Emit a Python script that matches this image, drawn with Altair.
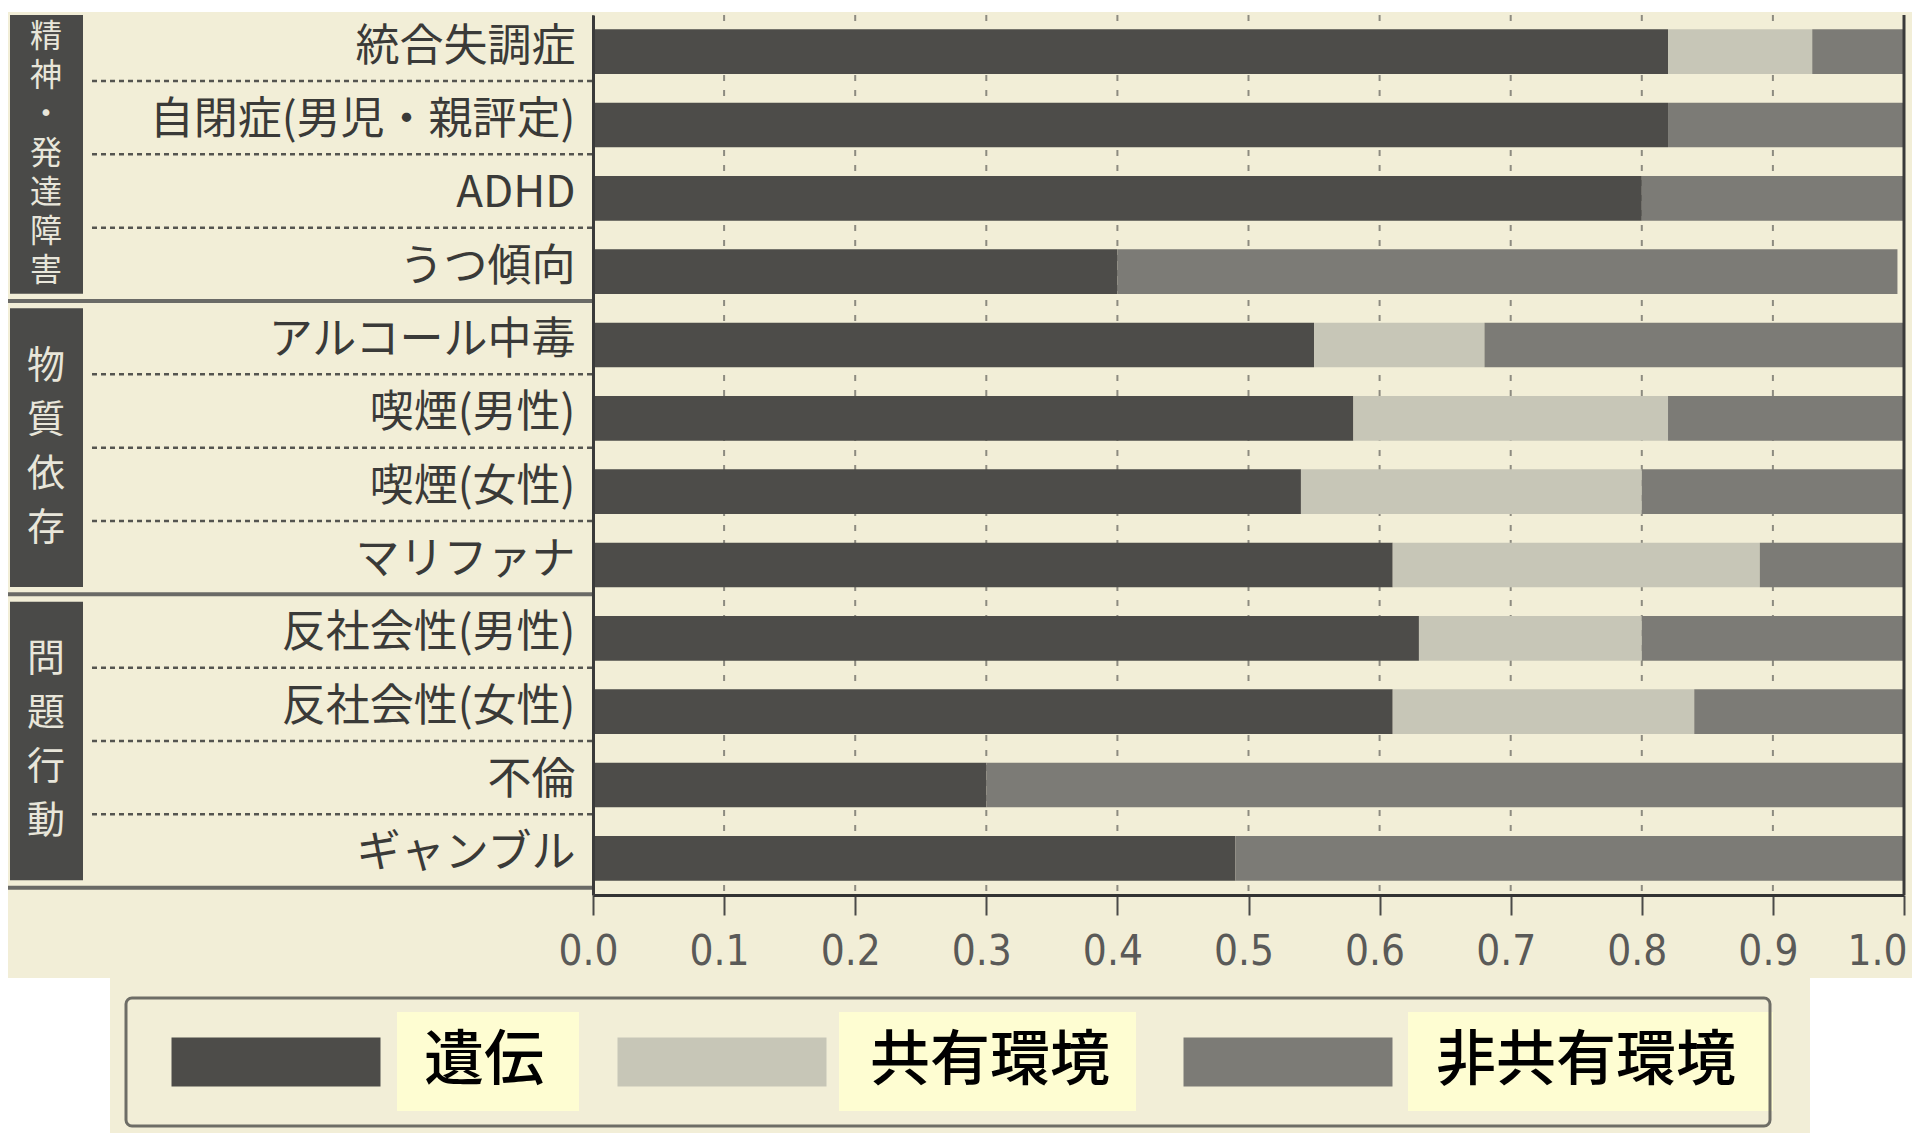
import altair as alt
import pandas as pd

# ---- data ----
categories = ["統合失調症", "自閉症(男児・親評定)", "ADHD", "うつ傾向",
              "アルコール中毒", "喫煙(男性)", "喫煙(女性)", "マリファナ",
              "反社会性(男性)", "反社会性(女性)", "不倫", "ギャンブル"]
genetic   = [0.82, 0.82, 0.80, 0.40, 0.55, 0.58, 0.54, 0.61, 0.63, 0.61, 0.30, 0.49]
shared    = [0.11, 0.00, 0.00, 0.00, 0.13, 0.24, 0.26, 0.28, 0.17, 0.23, 0.00, 0.00]
nonshared = [0.07, 0.18, 0.20, 0.595, 0.32, 0.18, 0.20, 0.11, 0.20, 0.16, 0.70, 0.51]
components = ["遺伝", "共有環境", "非共有環境"]
groups = ["精神・発達障害", "物質依存", "問題行動"]
group_sizes = [4, 4, 4]
ticks = [0.0, 0.1, 0.2, 0.3, 0.4, 0.5, 0.6, 0.7, 0.8, 0.9, 1.0]

# ---- styles ----
colors = ["#4d4c49", "#c7c6b7", "#7c7b76"]
cream = "#f2eed7"
patch = "#fefdd2"
jp = "Noto Sans CJK JP"
W, H = 1311, 880

rows = []
series = [genetic, shared, nonshared]
for i, c in enumerate(categories):
    for k, comp in enumerate(components):
        rows.append({"cat": c, "comp": comp, "value": series[k][i], "k": k})
df = pd.DataFrame(rows)

# group structure (index units on a 0..12 row scale)
starts, s = [], 0
for n in group_sizes:
    starts.append(s)
    s += n
total = s
inner = [b for st, n in zip(starts, group_sizes) for b in range(st + 1, st + n)]
outer = [st + n for st, n in zip(starts, group_sizes)]
gdf = pd.DataFrame({
    "name": groups,
    "txt": ["\n".join(list(g)) for g in groups],
    "y0": starts,
    "y1": [st + n - 0.2 for st, n in zip(starts, group_sizes)],
    "yc": [st + (n - 0.2) / 2 for st, n in zip(starts, group_sizes)],
})
idx = alt.Scale(domain=[0, total], reverse=True, nice=False, zero=False)

xs = alt.Scale(domain=[0, 1], nice=False)
xaxis = alt.Axis(values=ticks, format=".1f", title=None, grid=False,
                 labelFont="DejaVu Sans Condensed, Liberation Sans Narrow, sans-serif",
                 labelFontSize=42, labelColor="#5a5a58", tickSize=20, tickWidth=2,
                 tickColor="#4a4a48", domainColor="#333333", domainWidth=3,
                 labelPadding=16,
                 labelOffset=alt.ConditionalAxisNumber(
                     condition={"test": "datum.value >= 1", "value": -27}, value=-5),
                 zindex=1, labelFlush=False)

one = pd.DataFrame({"a": [0]})
bg = alt.Chart(one).mark_rect(color=cream).encode(
    x=alt.value(-585), x2=alt.value(W + 8), y=alt.value(-3), y2=alt.value(963))
bg2 = alt.Chart(one).mark_rect(color=cream).encode(
    x=alt.value(-483), x2=alt.value(1217), y=alt.value(960), y2=alt.value(1140))
# light yellow patches pasted behind the legend labels
patches = alt.Chart(pd.DataFrame({"x0": [-196, 246, 815], "x1": [-14, 543, 1180]})).mark_rect(
    color=patch).encode(
    x=alt.X("x0:Q", scale=None), x2="x1:Q", y=alt.value(997), y2=alt.value(1096))

grid = alt.Chart(pd.DataFrame({"t": ticks})).mark_rule(
    color="#8d8b80", strokeWidth=2, strokeDash=[6, 9]).encode(
    x=alt.X("t:Q", scale=xs, axis=xaxis))

SYM = 49  # nominal symbol size (height); custom path stretches it to ~209 px wide
bars = alt.Chart(df).mark_bar().encode(
    x=alt.X("value:Q", stack="zero", scale=xs, axis=xaxis),
    y=alt.Y("cat:N", sort=categories,
            scale=alt.Scale(paddingInner=0.39, paddingOuter=0.195),
            axis=alt.Axis(title=None, ticks=False, labelFont=jp, labelFontSize=44,
                          labelColor="#3a3a38", labelPadding=18, labelOffset=-4,
                          labelLimit=700, domainColor="#3a3a3a", domainWidth=3,
                          zindex=1)),
    color=alt.Color("comp:N", sort=components,
                    scale=alt.Scale(domain=components, range=colors),
                    legend=alt.Legend(orient="none", legendX=-467, legendY=983,
                                      direction="horizontal", title=None,
                                      symbolType="M-4.265,-1H4.265V1H-4.265Z",
                                      symbolSize=SYM * SYM, symbolStrokeWidth=0,
                                      symbolOffset=86,
                                      symbolOpacity=1, labelFont=jp, labelFontSize=60,
                                      labelFontWeight=500, labelColor="#000000",
                                      labelOffset=118, columnPadding=62, padding=34,
                                      labelLimit=500, strokeColor="#6e6d66",
                                      cornerRadius=6)),
    order=alt.Order("k:Q"),
)

dotted = alt.Chart(pd.DataFrame({"b": [b - 0.1 for b in inner]})).mark_rule(
    color="#555550", strokeWidth=2.5, strokeDash=[5, 4]).encode(
    x=alt.value(-501), x2=alt.value(0), y=alt.Y("b:Q", scale=idx, axis=None))

solid = alt.Chart(pd.DataFrame({"b": [b - 0.1 for b in outer]})).mark_rule(
    color="#6a6a66", strokeWidth=4).encode(
    x=alt.value(-585), x2=alt.value(0), y=alt.Y("b:Q", scale=idx, axis=None))

boxes = alt.Chart(gdf).mark_rect(color="#4a4a48").encode(
    x=alt.value(-583), x2=alt.value(-510),
    y=alt.Y("y0:Q", scale=idx, axis=None), y2="y1:Q")

n1 = len(groups[0])
gtext1 = alt.Chart(gdf.iloc[:1]).mark_text(
    font=jp, fontSize=32, color="#e8e6da", lineBreak="\n", lineHeight=39,
    baseline="middle", align="center", dy=-(n1 - 1) * 39 / 2).encode(
    x=alt.value(-547), y=alt.Y("yc:Q", scale=idx, axis=None), text="txt:N")
n2 = len(groups[1])
gtext2 = alt.Chart(gdf.iloc[1:]).mark_text(
    font=jp, fontSize=38, color="#e8e6da", lineBreak="\n", lineHeight=54,
    baseline="middle", align="center", dy=-(n2 - 1) * 54 / 2).encode(
    x=alt.value(-547), y=alt.Y("yc:Q", scale=idx, axis=None), text="txt:N")

border = alt.Chart(pd.DataFrame({"t": [1.0]})).mark_rule(
    color="#3a3a3a", strokeWidth=3).encode(x=alt.X("t:Q", scale=xs, axis=xaxis))

chart = alt.layer(bg, bg2, patches, grid, bars, dotted, solid, boxes, gtext1, gtext2, border).resolve_scale(
    y="independent"
).properties(
    width=W, height=H,
    autosize=alt.AutoSizeParams(type="none"),
    padding={"left": 585, "top": 7, "right": 8, "bottom": 238},
    background="white",
).configure_view(stroke=None).configure_legend(strokeWidth=3)

chart.save("out.html", embed_options={"renderer": "svg", "actions": False})
